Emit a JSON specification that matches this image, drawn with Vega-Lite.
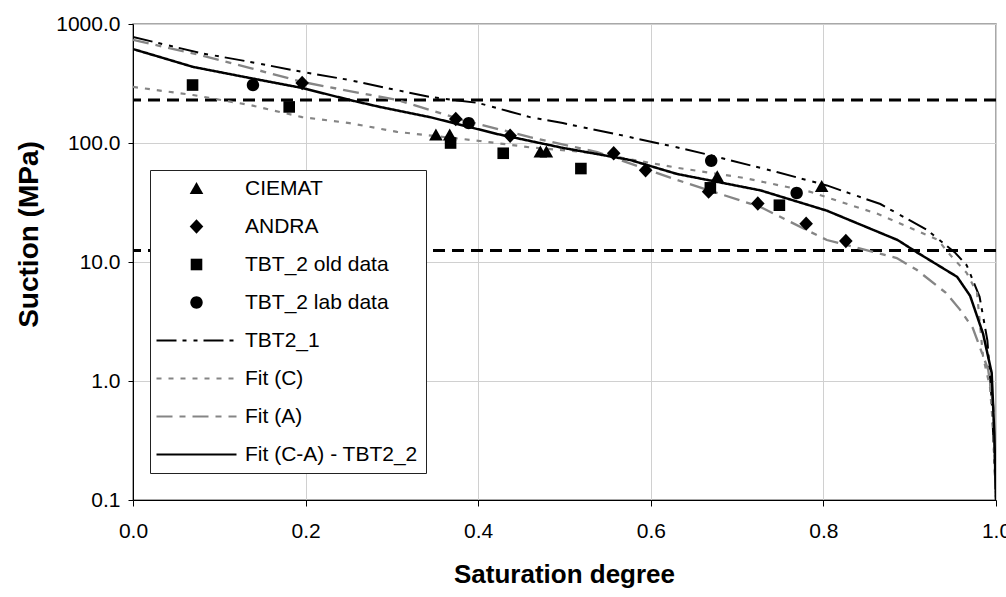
{
  "$schema": "https://vega.github.io/schema/vega-lite/v6.json",
  "autosize": "none",
  "width": 863,
  "height": 476,
  "padding": {"left": 133, "top": 24, "right": 10, "bottom": 97},
  "background": "white",
  "config": {
    "font": "Liberation Sans",
    "view": {"stroke": "#8c8c8c", "strokeWidth": 1.5},
    "axis": {
      "domainColor": "black", "tickColor": "black", "gridColor": "#d0d0d0", "gridWidth": 1,
      "labelColor": "black", "titleColor": "black", "labelFont": "Liberation Sans", "titleFont": "Liberation Sans",
      "labelFontSize": 21, "titleFontWeight": "bold", "labelFlush": false
    }
  },
  "data": {
    "values": [
      {"series": "CIEMAT", "s": 0.351, "suction": 117},
      {"series": "CIEMAT", "s": 0.367, "suction": 117},
      {"series": "CIEMAT", "s": 0.472, "suction": 84},
      {"series": "CIEMAT", "s": 0.479, "suction": 84},
      {"series": "CIEMAT", "s": 0.677, "suction": 52},
      {"series": "CIEMAT", "s": 0.798, "suction": 43},
      {"series": "ANDRA", "s": 0.196, "suction": 319},
      {"series": "ANDRA", "s": 0.374, "suction": 159},
      {"series": "ANDRA", "s": 0.437, "suction": 115},
      {"series": "ANDRA", "s": 0.557, "suction": 82},
      {"series": "ANDRA", "s": 0.594, "suction": 59},
      {"series": "ANDRA", "s": 0.667, "suction": 39},
      {"series": "ANDRA", "s": 0.724, "suction": 31},
      {"series": "ANDRA", "s": 0.780, "suction": 21},
      {"series": "ANDRA", "s": 0.826, "suction": 15},
      {"series": "TBT_2 old data", "s": 0.069, "suction": 307},
      {"series": "TBT_2 old data", "s": 0.181, "suction": 201},
      {"series": "TBT_2 old data", "s": 0.368, "suction": 100},
      {"series": "TBT_2 old data", "s": 0.429, "suction": 82},
      {"series": "TBT_2 old data", "s": 0.519, "suction": 61},
      {"series": "TBT_2 old data", "s": 0.669, "suction": 42},
      {"series": "TBT_2 old data", "s": 0.749, "suction": 30},
      {"series": "TBT_2 lab data", "s": 0.139, "suction": 307},
      {"series": "TBT_2 lab data", "s": 0.389, "suction": 147},
      {"series": "TBT_2 lab data", "s": 0.670, "suction": 71},
      {"series": "TBT_2 lab data", "s": 0.769, "suction": 38},

      {"series": "TBT2_1", "s": 0.0, "suction": 778},
      {"series": "TBT2_1", "s": 0.078, "suction": 570},
      {"series": "TBT2_1", "s": 0.136, "suction": 480},
      {"series": "TBT2_1", "s": 0.196, "suction": 396},
      {"series": "TBT2_1", "s": 0.251, "suction": 338},
      {"series": "TBT2_1", "s": 0.294, "suction": 290},
      {"series": "TBT2_1", "s": 0.344, "suction": 244},
      {"series": "TBT2_1", "s": 0.400, "suction": 217},
      {"series": "TBT2_1", "s": 0.460, "suction": 165},
      {"series": "TBT2_1", "s": 0.498, "suction": 147},
      {"series": "TBT2_1", "s": 0.564, "suction": 117},
      {"series": "TBT2_1", "s": 0.630, "suction": 92},
      {"series": "TBT2_1", "s": 0.669, "suction": 79},
      {"series": "TBT2_1", "s": 0.746, "suction": 57},
      {"series": "TBT2_1", "s": 0.804, "suction": 44},
      {"series": "TBT2_1", "s": 0.866, "suction": 30.7},
      {"series": "TBT2_1", "s": 0.920, "suction": 18.6},
      {"series": "TBT2_1", "s": 0.952, "suction": 12.1},
      {"series": "TBT2_1", "s": 0.966, "suction": 9.4},
      {"series": "TBT2_1", "s": 0.981, "suction": 5.1},
      {"series": "TBT2_1", "s": 0.990, "suction": 2.2},
      {"series": "TBT2_1", "s": 0.995, "suction": 0.69},
      {"series": "TBT2_1", "s": 1.0, "suction": 0.1},

      {"series": "Fit (C)", "s": 0.0, "suction": 296},
      {"series": "Fit (C)", "s": 0.0695, "suction": 253},
      {"series": "Fit (C)", "s": 0.136, "suction": 208},
      {"series": "Fit (C)", "s": 0.196, "suction": 165},
      {"series": "Fit (C)", "s": 0.251, "suction": 147},
      {"series": "Fit (C)", "s": 0.306, "suction": 124},
      {"series": "Fit (C)", "s": 0.402, "suction": 104},
      {"series": "Fit (C)", "s": 0.460, "suction": 92},
      {"series": "Fit (C)", "s": 0.538, "suction": 82},
      {"series": "Fit (C)", "s": 0.630, "suction": 62},
      {"series": "Fit (C)", "s": 0.707, "suction": 51},
      {"series": "Fit (C)", "s": 0.784, "suction": 39},
      {"series": "Fit (C)", "s": 0.862, "suction": 25.5},
      {"series": "Fit (C)", "s": 0.933, "suction": 15.3},
      {"series": "Fit (C)", "s": 0.944, "suction": 12.1},
      {"series": "Fit (C)", "s": 0.966, "suction": 8.1},
      {"series": "Fit (C)", "s": 0.978, "suction": 5.5},
      {"series": "Fit (C)", "s": 0.985, "suction": 1.6},
      {"series": "Fit (C)", "s": 0.993, "suction": 0.89},
      {"series": "Fit (C)", "s": 0.997, "suction": 0.37},
      {"series": "Fit (C)", "s": 1.0, "suction": 0.1},

      {"series": "Fit (A)", "s": 0.0, "suction": 735},
      {"series": "Fit (A)", "s": 0.078, "suction": 548},
      {"series": "Fit (A)", "s": 0.136, "suction": 426},
      {"series": "Fit (A)", "s": 0.196, "suction": 326},
      {"series": "Fit (A)", "s": 0.251, "suction": 273},
      {"series": "Fit (A)", "s": 0.306, "suction": 230},
      {"series": "Fit (A)", "s": 0.382, "suction": 156},
      {"series": "Fit (A)", "s": 0.460, "suction": 112},
      {"series": "Fit (A)", "s": 0.538, "suction": 84},
      {"series": "Fit (A)", "s": 0.630, "suction": 49},
      {"series": "Fit (A)", "s": 0.727, "suction": 29},
      {"series": "Fit (A)", "s": 0.804, "suction": 15.3},
      {"series": "Fit (A)", "s": 0.885, "suction": 10.8},
      {"series": "Fit (A)", "s": 0.908, "suction": 8.6},
      {"series": "Fit (A)", "s": 0.942, "suction": 5.5},
      {"series": "Fit (A)", "s": 0.958, "suction": 4.0},
      {"series": "Fit (A)", "s": 0.973, "suction": 2.8},
      {"series": "Fit (A)", "s": 0.991, "suction": 1.24},
      {"series": "Fit (A)", "s": 0.997, "suction": 0.6},
      {"series": "Fit (A)", "s": 0.999, "suction": 0.17},
      {"series": "Fit (A)", "s": 1.0, "suction": 0.1},

      {"series": "Fit (C-A) - TBT2_2", "s": 0.0, "suction": 616},
      {"series": "Fit (C-A) - TBT2_2", "s": 0.0695, "suction": 436},
      {"series": "Fit (C-A) - TBT2_2", "s": 0.136, "suction": 351},
      {"series": "Fit (C-A) - TBT2_2", "s": 0.196, "suction": 290},
      {"series": "Fit (C-A) - TBT2_2", "s": 0.251, "suction": 230},
      {"series": "Fit (C-A) - TBT2_2", "s": 0.286, "suction": 201},
      {"series": "Fit (C-A) - TBT2_2", "s": 0.344, "suction": 165},
      {"series": "Fit (C-A) - TBT2_2", "s": 0.422, "suction": 119},
      {"series": "Fit (C-A) - TBT2_2", "s": 0.498, "suction": 91},
      {"series": "Fit (C-A) - TBT2_2", "s": 0.576, "suction": 72},
      {"series": "Fit (C-A) - TBT2_2", "s": 0.630, "suction": 55},
      {"series": "Fit (C-A) - TBT2_2", "s": 0.727, "suction": 40},
      {"series": "Fit (C-A) - TBT2_2", "s": 0.804, "suction": 27},
      {"series": "Fit (C-A) - TBT2_2", "s": 0.886, "suction": 15.3},
      {"series": "Fit (C-A) - TBT2_2", "s": 0.908, "suction": 12.1},
      {"series": "Fit (C-A) - TBT2_2", "s": 0.955, "suction": 7.5},
      {"series": "Fit (C-A) - TBT2_2", "s": 0.970, "suction": 5.2},
      {"series": "Fit (C-A) - TBT2_2", "s": 0.985, "suction": 2.5},
      {"series": "Fit (C-A) - TBT2_2", "s": 0.995, "suction": 1.17},
      {"series": "Fit (C-A) - TBT2_2", "s": 0.998, "suction": 0.37},
      {"series": "Fit (C-A) - TBT2_2", "s": 1.0, "suction": 0.1},

      {"series": "limit", "suction": 230},
      {"series": "limit", "suction": 12.5}
    ]
  },
  "layer": [
    {
      "transform": [{"filter": "datum.series === 'limit'"}],
      "mark": {"type": "rule", "color": "black", "strokeWidth": 3, "strokeDash": [12, 7]},
      "encoding": {
        "y": {
          "field": "suction", "type": "quantitative", "title": "Suction (MPa)",
          "scale": {"type": "log", "domain": [0.1, 1000], "nice": false},
          "axis": {
            "values": [0.1, 1, 10, 100, 1000],
            "labelExpr": "format(datum.value, '.1f')",
            "tickSize": 5, "labelPadding": 8, "grid": true,
            "titleFontSize": 28, "titleX": -104, "titleY": 210, "titleAlign": "center", "titleBaseline": "middle"
          }
        }
      }
    },
    {
      "transform": [{"filter": "indexof(['TBT2_1','Fit (C)','Fit (A)','Fit (C-A) - TBT2_2'], datum.series) >= 0"}],
      "mark": {"type": "line", "clip": true},
      "encoding": {
        "x": {
          "field": "s", "type": "quantitative", "title": "Saturation degree",
          "scale": {"domain": [0, 1], "nice": false},
          "axis": {
            "values": [0, 0.2, 0.4, 0.6, 0.8, 1], "format": ".1f",
            "tickSize": 6, "labelPadding": 14, "grid": true, "labelFlush": false,
            "titleFontSize": 26, "titleX": 431, "titleY": 74, "titleAlign": "center", "titleBaseline": "middle"
          }
        },
        "y": {"field": "suction", "type": "quantitative", "title": "Suction (MPa)"},
        "color": {
          "field": "series", "type": "nominal",
          "scale": {
            "domain": ["CIEMAT", "ANDRA", "TBT_2 old data", "TBT_2 lab data", "TBT2_1", "Fit (C)", "Fit (A)", "Fit (C-A) - TBT2_2"],
            "range": ["black", "black", "black", "black", "black", "#858585", "#858585", "black"]
          },
          "legend": {
            "title": null, "orient": "none", "legendX": 17, "legendY": 146, "direction": "vertical",
            "fillColor": "white", "strokeColor": "#222222", "padding": 8, "rowPadding": 16,
            "symbolSize": 400, "symbolOffset": 28, "labelOffset": 38, "labelLimit": 400,
            "labelFontSize": 21, "labelFont": "Liberation Sans", "labelColor": "black",
            "encode": {
              "symbols": {
                "update": {
                  "shape": {"scale": "shape", "field": "value"},
                  "strokeDash": {"scale": "strokeDash", "field": "value"},
                  "fill": {"scale": "color", "field": "value"},
                  "stroke": {"scale": "color", "field": "value"},
                  "strokeWidth": {"signal": "indexof(['TBT2_1','Fit (C)','Fit (A)','Fit (C-A) - TBT2_2'], datum.value) >= 0 ? 2 : 0"},
                  "opacity": {"value": 1},
                  "fillOpacity": {"value": 1},
                  "strokeOpacity": {"value": 1}
                }
              }
            }
          }
        },
        "strokeDash": {
          "field": "series", "type": "nominal", "legend": null,
          "scale": {
            "domain": ["CIEMAT", "ANDRA", "TBT_2 old data", "TBT_2 lab data", "TBT2_1", "Fit (C)", "Fit (A)", "Fit (C-A) - TBT2_2"],
            "range": [[1, 0], [1, 0], [1, 0], [1, 0], [20, 6, 4, 7, 4, 6], [5, 7], [16, 7, 6, 7], [1, 0]]
          }
        },
        "strokeWidth": {
          "field": "series", "type": "nominal", "legend": null,
          "scale": {
            "domain": ["TBT2_1", "Fit (C)", "Fit (A)", "Fit (C-A) - TBT2_2"],
            "range": [2, 2.5, 2, 1.6]
          }
        }
      }
    },
    {
      "transform": [{"filter": "indexof(['CIEMAT','ANDRA','TBT_2 old data','TBT_2 lab data'], datum.series) >= 0"}],
      "mark": {"type": "point", "filled": true, "size": 400, "opacity": 1, "strokeWidth": 0},
      "encoding": {
        "x": {"field": "s", "type": "quantitative", "title": "Saturation degree"},
        "y": {"field": "suction", "type": "quantitative", "title": "Suction (MPa)"},
        "color": {"field": "series", "type": "nominal"},
        "shape": {
          "field": "series", "type": "nominal", "legend": null,
          "scale": {
            "domain": ["CIEMAT", "ANDRA", "TBT_2 old data", "TBT_2 lab data", "TBT2_1", "Fit (C)", "Fit (A)", "Fit (C-A) - TBT2_2"],
            "range": [
              "M0,-0.65L0.68,0.55L-0.68,0.55Z",
              "M0,-0.72L0.68,0L0,0.72L-0.68,0Z",
              "M-0.58,-0.58H0.58V0.58H-0.58Z",
              "M-0.62,0A0.62,0.62,0,1,0,0.62,0A0.62,0.62,0,1,0,-0.62,0Z",
              "M-4,0H4", "M-4,0H4", "M-4,0H4", "M-4,0H4"
            ]
          }
        }
      }
    }
  ]
}
